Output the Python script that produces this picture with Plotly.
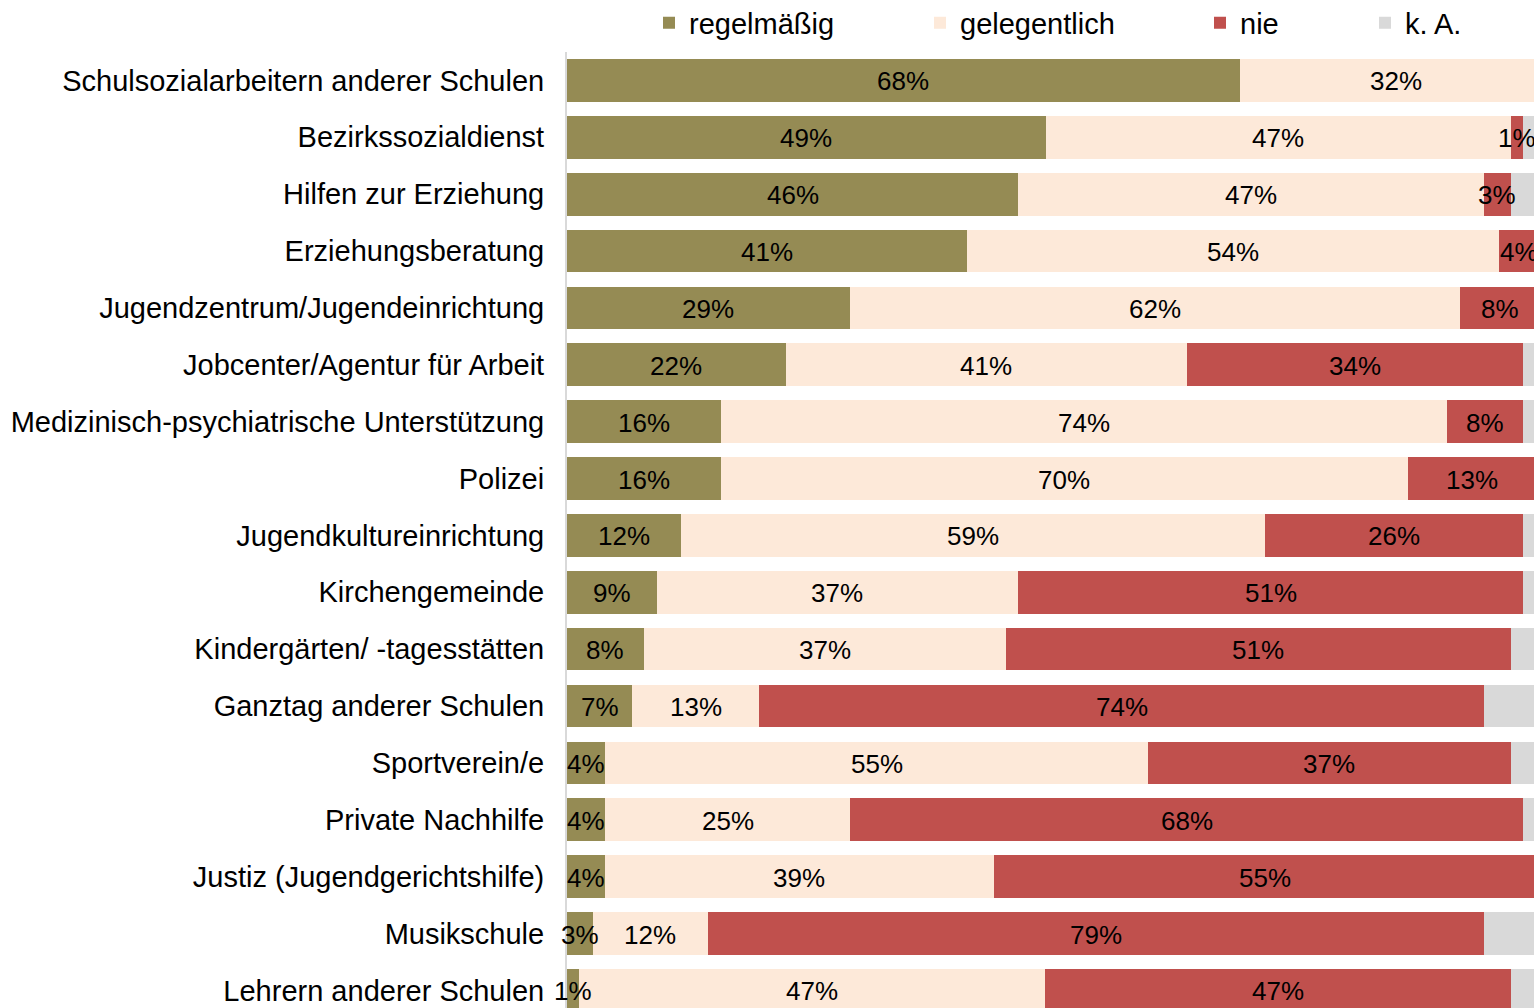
import plotly.graph_objects as go

categories = [
    "Schulsozialarbeitern anderer Schulen",
    "Bezirkssozialdienst",
    "Hilfen zur Erziehung",
    "Erziehungsberatung",
    "Jugendzentrum/Jugendeinrichtung",
    "Jobcenter/Agentur für Arbeit",
    "Medizinisch-psychiatrische Unterstützung",
    "Polizei",
    "Jugendkultureinrichtung",
    "Kirchengemeinde",
    "Kindergärten/ -tagesstätten",
    "Ganztag anderer Schulen",
    "Sportverein/e",
    "Private Nachhilfe",
    "Justiz (Jugendgerichtshilfe)",
    "Musikschule",
    "Lehrern anderer Schulen",
]
regelmaessig = [68.3, 48.6, 45.8, 40.6, 28.7, 22.2, 15.6, 15.6, 11.6, 9.1, 7.8, 6.6, 3.9, 3.9, 3.9, 2.6, 1.2]
gelegentlich = [31.7, 47.2, 47.3, 54.0, 62.0, 40.7, 73.7, 69.8, 59.3, 36.7, 36.8, 12.9, 55.1, 24.8, 39.4, 11.7, 47.3]
nie = [0.0, 1.3, 2.7, 4.2, 8.0, 34.2, 7.8, 13.0, 26.2, 51.3, 51.2, 73.6, 36.8, 68.4, 55.2, 78.8, 47.3]
keine_angabe = [0.0, 2.9, 4.2, 1.2, 1.3, 2.9, 2.9, 1.6, 2.9, 2.9, 4.2, 6.9, 4.2, 2.9, 1.5, 6.9, 4.2]

# name, values, colour, show labels, legend id, legend left (px)
series = [
    ("regelmäßig", regelmaessig, "#958B54", True, "legend", 649),
    ("gelegentlich", gelegentlich, "#FDE9D9", True, "legend2", 920),
    ("nie", nie, "#C0504D", True, "legend3", 1200),
    ("k. A.", keine_angabe, "#D9D9D9", False, "legend4", 1365),
]

FONT = "Liberation Sans, Arial, sans-serif"
W, H = 1534, 1008
left = 567

fig = go.Figure()
labels = []
start = [0.0] * len(categories)
for name, vals, color, labelled, leg, lx in series:
    fig.add_trace(go.Bar(
        y=categories, x=vals, name=name, orientation="h",
        marker=dict(color=color, line=dict(width=0)),
        legend=leg, showlegend=True,
    ))
    if labelled:
        for i, v in enumerate(vals):
            if v > 0:
                labels.append(dict(
                    x=start[i] + v / 2, y=categories[i], text=f"{v:.0f}%",
                    showarrow=False, yshift=-1,
                    font=dict(family=FONT, size=26, color="black"),
                ))
    start = [s + v for s, v in zip(start, vals)]

legends = {}
for name, vals, color, labelled, leg, lx in series:
    legends[leg] = dict(
        orientation="h", xref="container", yref="container",
        x=lx / W, y=1 - 23 / H, xanchor="left", yanchor="middle",
        font=dict(family=FONT, size=29, color="black"),
        bgcolor="rgba(0,0,0,0)", borderwidth=0,
    )

fig.update_layout(
    width=W, height=H,
    showlegend=True,
    barmode="stack", bargap=0.25,
    plot_bgcolor="white", paper_bgcolor="white",
    margin=dict(l=left, r=0, t=52, b=0),
    font=dict(family=FONT, size=29, color="black"),
    xaxis=dict(range=[0, (W - left) / 9.85], showgrid=False, zeroline=False,
               showticklabels=False, showline=False),
    yaxis=dict(range=[16.31, -0.5], showgrid=False, zeroline=False,
               showline=True, linecolor="#D9D9D9", linewidth=2,
               ticks="", ticklabelstandoff=15,
               tickfont=dict(family=FONT, size=29, color="black")),
    annotations=labels,
    **legends,
)

fig.write_html(
    "out.html",
    config={"responsive": False, "displayModeBar": False},
    post_script="document.body.style.margin='0';"
                "document.documentElement.style.overflow='hidden';",
)
